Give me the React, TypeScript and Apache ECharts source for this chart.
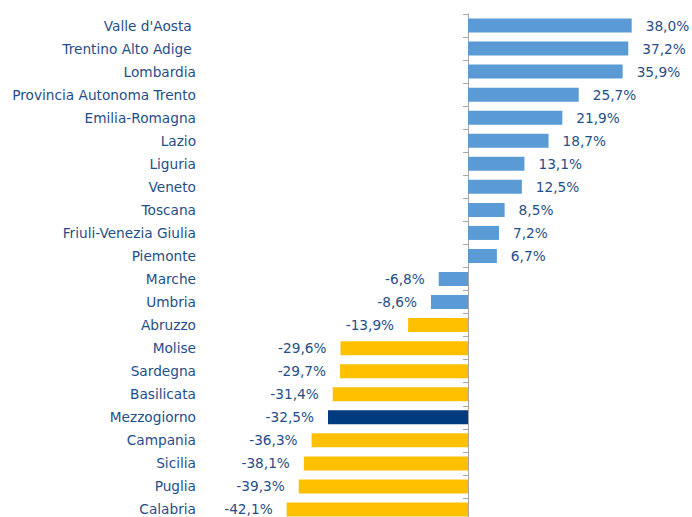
import React, { useEffect, useRef } from "react";
import * as echarts from "echarts";

const categories = [
  "Valle d'Aosta ",
  "Trentino Alto Adige ",
  "Lombardia",
  "Provincia Autonoma Trento",
  "Emilia-Romagna",
  "Lazio",
  "Liguria",
  "Veneto",
  "Toscana",
  "Friuli-Venezia Giulia",
  "Piemonte",
  "Marche",
  "Umbria",
  "Abruzzo",
  "Molise",
  "Sardegna",
  "Basilicata",
  "Mezzogiorno",
  "Campania",
  "Sicilia",
  "Puglia",
  "Calabria",
];

const values = [
  38.0, 37.2, 35.9, 25.7, 21.9, 18.7, 13.1, 12.5, 8.5, 7.2, 6.7, -6.8, -8.6,
  -13.9, -29.6, -29.7, -31.4, -32.5, -36.3, -38.1, -39.3, -42.1,
];

const southRegions = [
  "Abruzzo",
  "Molise",
  "Sardegna",
  "Basilicata",
  "Campania",
  "Sicilia",
  "Puglia",
  "Calabria",
];
const aggregateName = "Mezzogiorno";

const BLUE = "#5B9BD5";
const YELLOW = "#FFC000";
const NAVY = "#003A7F";
const TEXT = "#1F4E89";
const AXIS = "#A6A6A6";
const FONT = "Tahoma, 'DejaVu Sans', sans-serif";

export default function App() {
  const ref = useRef<HTMLDivElement>(null);
  useEffect(() => {
    if (!ref.current) return;
    const chart = echarts.init(ref.current, undefined, { renderer: "svg" });
    const pxPerUnit = 4.308;
    const xMin = -50;
    const xMax = 50;
    const zeroX = 468;
    const left = zeroX + xMin * pxPerUnit;
    const width = (xMax - xMin) * pxPerUnit;
    const labelRight = 196;
    chart.setOption({
      animation: false,
      grid: { left, width, top: 14, height: 507, containLabel: false, outerBoundsMode: "none" },
      xAxis: {
        type: "value",
        min: xMin,
        max: xMax,
        show: false,
      },
      yAxis: {
        type: "category",
        data: categories,
        inverse: true,
        axisLine: { show: true, onZero: true, lineStyle: { color: AXIS, width: 1 } },
        axisTick: { show: true, length: 5, lineStyle: { color: AXIS } },
        axisLabel: {
          margin: left - labelRight,
          color: TEXT,
          fontFamily: FONT,
          fontSize: 13.7,
        },
        splitLine: { show: false },
      },
      series: [
        {
          type: "bar",
          barWidth: 14,
          data: values.map((v, i) => {
            const name = categories[i].trim();
            const color =
              name === aggregateName ? NAVY : southRegions.includes(name) ? YELLOW : BLUE;
            return {
              value: v,
              itemStyle: { color },
              label: { position: v >= 0 ? "right" : "left" },
            };
          }),
          label: {
            show: true,
            distance: 14,
            color: TEXT,
            fontFamily: FONT,
            fontSize: 13.7,
            formatter: (p: any) => p.value.toFixed(1).replace(".", ",") + "%",
          },
        },
      ],
    });
    return () => chart.dispose();
  }, []);
  return (
    <div
      ref={ref}
      style={{ position: "fixed", left: 0, top: 0, width: 692, height: 517, background: "#fff" }}
    />
  );
}
